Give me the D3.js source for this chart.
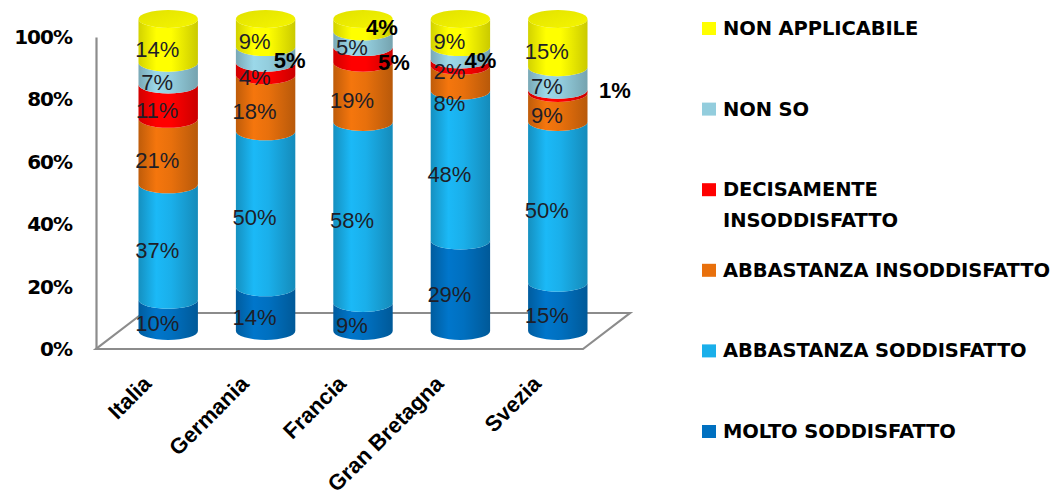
<!DOCTYPE html>
<html>
<head>
<meta charset="utf-8">
<script src="https://cdn.jsdelivr.net/npm/d3@7"></script>
<style>
  html, body { margin: 0; padding: 0; background: #ffffff; }
  svg { display: block; }
</style>
</head>
<body>
<svg id="chart" width="1056" height="496"></svg>
<script>
// Soddisfazione per paese: 100% stacked cylinders
const countries = ["Italia", "Germania", "Francia", "Gran Bretagna", "Svezia"];
const seriesNames = [
  "MOLTO SODDISFATTO",
  "ABBASTANZA SODDISFATTO",
  "ABBASTANZA INSODDISFATTO",
  "DECISAMENTE INSODDISFATTO",
  "NON SO",
  "NON APPLICABILE"
];
const moltoSoddisfatto        = [10, 14,  9, 29, 15];
const abbastanzaSoddisfatto   = [37, 50, 58, 48, 50];
const abbastanzaInsoddisfatto = [21, 18, 19,  8,  9];
const decisamenteInsodd       = [11,  4,  5,  2,  1];
const nonSo                   = [ 7,  5,  5,  4,  7];
const nonApplicabile          = [14,  9,  4,  9, 15];
const yTickValues = [0, 0.2, 0.4, 0.6, 0.8, 1];

const seriesValues = [
  moltoSoddisfatto, abbastanzaSoddisfatto, abbastanzaInsoddisfatto,
  decisamenteInsodd, nonSo, nonApplicabile
];

// colours and legend layout
const seriesColors = ["#0070C0", "#1AAFEA", "#E8700C", "#FF0000", "#93CDDD", "#FFFF00"];
const legendLines = [
  ["MOLTO SODDISFATTO"],
  ["ABBASTANZA SODDISFATTO"],
  ["ABBASTANZA INSODDISFATTO"],
  ["DECISAMENTE", "INSODDISFATTO"],
  ["NON SO"],
  ["NON APPLICABILE"]
];

// labels that sit off their slice (thin slices)
const labelNudge = {
  "Germania|NON SO": { dx: 35, dy: -3, bold: true },
  "Francia|DECISAMENTE INSODDISFATTO": { dx: 42, dy: -1, bold: true },
  "Francia|NON APPLICABILE": { dx: 30, dy: -6, bold: true },
  "Gran Bretagna|NON SO": { dx: 31, dy: -1, bold: true },
  "Gran Bretagna|ABBASTANZA INSODDISFATTO": { dx: 0, dy: 17, bold: false },
  "Svezia|DECISAMENTE INSODDISFATTO": { dx: 68, dy: -9, bold: true }
};

const table = countries.map((c, i) => {
  const row = { country: c };
  seriesNames.forEach((s, j) => { row[s] = seriesValues[j][i]; });
  return row;
});

const stacked = d3.stack()
  .keys(seriesNames)
  .offset(d3.stackOffsetExpand)(table);

const svg = d3.select("#chart");

// 3D frame geometry
const depth = { dx: 47, dy: -36 };
const half = { dx: depth.dx / 2, dy: depth.dy / 2 };
const ry = 9;

const x = d3.scaleBand().domain(countries).range([96, 583])
  .paddingInner(0.39).paddingOuter(0.195);
const yFront = d3.scaleLinear().domain([0, 1]).range([349, 37]);
const yBar = d3.scaleLinear().domain([0, 1]).range([349 + half.dy, 37 + half.dy]);

// gradients for the cylinder sides
const defs = svg.append("defs");
seriesNames.forEach((s, j) => {
  const base = d3.color(seriesColors[j]);
  const g = defs.append("linearGradient")
    .attr("id", "grad" + j)
    .attr("x1", "0%").attr("x2", "100%").attr("y1", "0%").attr("y2", "0%");
  const stops = [
    [0, base.darker(0.55)],
    [0.3, base.brighter(0.15)],
    [0.55, base],
    [1, base.darker(0.65)]
  ];
  stops.forEach(([o, c]) => g.append("stop").attr("offset", o).attr("stop-color", c.formatHex()));
});
{
  const topBase = d3.color(seriesColors[seriesColors.length - 1]);
  const g = defs.append("linearGradient").attr("id", "gradTop")
    .attr("x1", "0%").attr("x2", "100%").attr("y1", "0%").attr("y2", "100%");
  g.append("stop").attr("offset", 0).attr("stop-color", topBase.darker(0.35).formatHex());
  g.append("stop").attr("offset", 1).attr("stop-color", topBase.darker(0.1).formatHex());
}

// floor
const x0 = x.range()[0], x1 = x.range()[1];
const floorPts = [
  [x0, yFront(0)], [x1, yFront(0)],
  [x1 + depth.dx, yFront(0) + depth.dy], [x0 + depth.dx, yFront(0) + depth.dy]
];
svg.append("path")
  .attr("d", d3.line()(floorPts) + "Z")
  .attr("fill", "#ffffff")
  .attr("stroke", "#8c8c8c")
  .attr("stroke-width", 2.2)
  .attr("stroke-linejoin", "miter");

// value axis
const yAxis = d3.axisLeft(yFront)
  .tickValues(yTickValues)
  .tickFormat(d3.format(".0%"))
  .tickSize(0)
  .tickSizeOuter(0)
  .tickPadding(24);
const axisG = svg.append("g").attr("transform", `translate(${x0},0)`).call(yAxis);
axisG.select(".domain").attr("stroke", "#8c8c8c").attr("stroke-width", 2.2);
axisG.selectAll("text")
  .attr("fill", "#000")
  .style("font-family", "'DejaVu Sans', sans-serif")
  .style("font-weight", "bold")
  .style("font-size", "20px")
  .style("letter-spacing", "-1px");

// cylinders
const barsG = svg.append("g");
stacked.forEach((layer, j) => {
  layer.forEach((d, i) => {
    const cx = x(countries[i]) + x.bandwidth() / 2 + half.dx;
    const rx = x.bandwidth() / 2;
    const yb = yBar(d[0]), yt = yBar(d[1]);
    const path = `M${cx - rx},${yt} A${rx},${ry} 0 0 0 ${cx + rx},${yt} ` +
      `L${cx + rx},${yb} A${rx},${ry} 0 0 1 ${cx - rx},${yb} Z`;
    barsG.append("path")
      .attr("d", path)
      .attr("fill", `url(#grad${j})`);
  });
});
// top caps
stacked[stacked.length - 1].forEach((d, i) => {
  const cx = x(countries[i]) + x.bandwidth() / 2 + half.dx;
  barsG.append("ellipse")
    .attr("cx", cx).attr("cy", yBar(d[1]))
    .attr("rx", x.bandwidth() / 2).attr("ry", ry)
    .attr("fill", "url(#gradTop)");
});

// data labels
const labelsG = svg.append("g");
stacked.forEach((layer, j) => {
  layer.forEach((d, i) => {
    const key = countries[i] + "|" + seriesNames[j];
    const nudge = labelNudge[key] || { dx: 0, dy: 0, bold: false };
    const cx = x(countries[i]) + x.bandwidth() / 2 + half.dx - 11;
    const cy = yBar((d[0] + d[1]) / 2) + 8;
    labelsG.append("text")
      .attr("x", cx + nudge.dx)
      .attr("y", cy + nudge.dy)
      .attr("dy", "0.36em")
      .attr("text-anchor", "middle")
      .attr("fill", nudge.bold ? "#000" : "#1e1e28")
      .style("font-family", "'Liberation Sans', Arial, sans-serif")
      .style("font-weight", nudge.bold ? "bold" : "normal")
      .style("font-size", "22px")
      .text(seriesValues[j][i] + "%");
  });
});

// category labels
const catG = svg.append("g");
countries.forEach(c => {
  const px = x(c) + x.bandwidth() / 2 + 8;
  const py = 385;
  catG.append("text")
    .attr("transform", `translate(${px},${py}) rotate(-45)`)
    .attr("text-anchor", "end")
    .attr("fill", "#000")
    .style("font-family", "'Liberation Sans', Arial, sans-serif")
    .style("font-weight", "bold")
    .style("font-size", "22px")
    .text(c);
});

// legend (top entry = last series)
const legendG = svg.append("g");
const legendOrder = d3.range(seriesNames.length).reverse();
legendOrder.forEach((j, k) => {
  const base = 35 + k * 80.6;
  legendG.append("rect")
    .attr("x", 702).attr("y", base - 13)
    .attr("width", 14).attr("height", 13)
    .attr("fill", seriesColors[j]);
  const t = legendG.append("text")
    .attr("x", 723).attr("y", base)
    .attr("fill", "#000")
    .style("font-family", "'DejaVu Sans', sans-serif")
    .style("font-weight", "bold")
    .style("font-size", "19.5px")
    .style("letter-spacing", "-0.1px");
  legendLines[j].forEach((line, li) => {
    t.append("tspan").attr("x", 723).attr("dy", li === 0 ? 0 : 31).text(line);
  });
});
</script>
</body>
</html>
